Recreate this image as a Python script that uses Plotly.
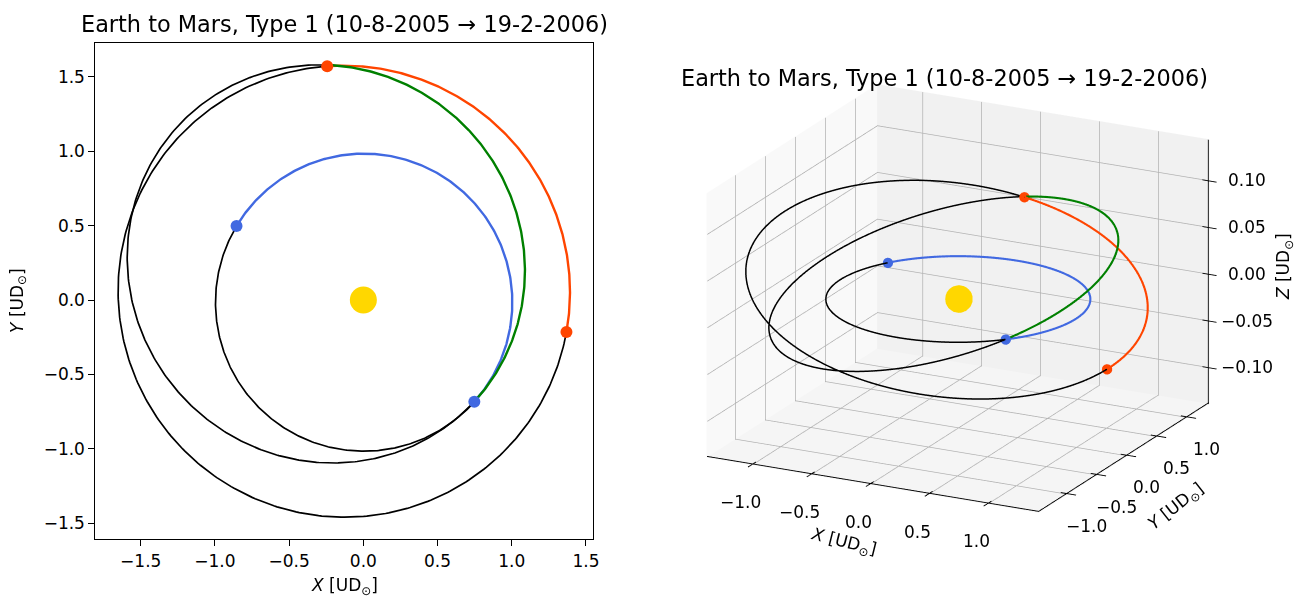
import numpy as np
import plotly.graph_objects as go

title_text = "Earth to Mars, Type 1 (10-8-2005 → 19-2-2006)"

# Orbits: Earth, Mars, transfer
names = ["Earth", "Mars", "Transfer"]
semi_latus = [1.000, 1.5104, 1.2724]      # UD
ecc = [0.0167, 0.0934, 0.2564]
lon_peri = [102.9, 336.1, -44.0]          # deg
incl = [0.0, 1.85, 2.24]                  # deg
lon_node = [0.0, 49.56, -42.48]           # deg
# heliocentric longitudes on 10-8-2005 (departure) and 19-2-2006 (arrival)
lon_dep = [-42.48, -8.95, -42.48]
lon_arr = [149.8, 98.81, 98.81]
arc_colors = ["royalblue", "orangered", "green"]
dot_colors = ["royalblue", "orangered"]
sun_color = "gold"

xy_ticks = [-1.5, -1.0, -0.5, 0.0, 0.5, 1.0, 1.5]
xyz_ticks = [-1.0, -0.5, 0.0, 0.5, 1.0]
z_ticks = [-0.10, -0.05, 0.0, 0.05, 0.10]

# 3D axes box limits
BX = [-1.39, 1.43]
BY = [-1.47, 1.37]
BZ = [-0.139, 0.144]

W, H = 1298, 597
FONT = "DejaVu Sans"
GRID = "rgb(178,178,178)"

# view (orthographic)
AZ, EL = -63.0, 19.0
kx = 0.443                                   # scene units per UD along x and y
kz = 0.75 * kx * (BX[1] - BX[0]) / (BZ[1] - BZ[0])
vd = np.array([np.cos(np.radians(EL)) * np.cos(np.radians(AZ)),
               np.cos(np.radians(EL)) * np.sin(np.radians(AZ)),
               np.sin(np.radians(EL))])
# the box is pushed back along the line of sight (no visible change in an
# orthographic view) so that the orbits are always drawn in front of the panes
T = 0.5
SH = -T * vd / np.array([kx, kx, kz])


def orbit(k, a0, a1, n=300):
    th = np.radians(np.linspace(a0, a1, n))
    r = semi_latus[k] / (1 + ecc[k] * np.cos(th - np.radians(lon_peri[k])))
    x = r * np.cos(th)
    y = r * np.sin(th)
    z = r * np.tan(np.radians(incl[k])) * np.sin(th - np.radians(lon_node[k]))
    return x, y, z


def point(k, a):
    x, y, z = orbit(k, a, a, 1)
    return x[0], y[0], z[0]


def lab(t):
    return "<i>%s</i> [UD<sub>⊙</sub>]" % t


def fmt(v, n):
    return ("%.*f" % (n, v)).replace("-", "−")


fig = go.Figure()

# ---------- 2D ----------
for k in range(3):
    x, y, _ = orbit(k, lon_arr[k], lon_dep[k] + 360)
    fig.add_trace(go.Scatter(x=x, y=y, mode="lines", line=dict(color="black", width=1.7),
                             showlegend=False, hoverinfo="skip", xaxis="x", yaxis="y"))
for k in range(3):
    x, y, _ = orbit(k, lon_dep[k], lon_arr[k])
    fig.add_trace(go.Scatter(x=x, y=y, mode="lines", line=dict(color=arc_colors[k], width=2.4),
                             showlegend=False, hoverinfo="skip", xaxis="x", yaxis="y"))
for k in range(2):
    pts = [point(k, lon_dep[k]), point(k, lon_arr[k])]
    fig.add_trace(go.Scatter(x=[p[0] for p in pts], y=[p[1] for p in pts], mode="markers",
                             marker=dict(color=dot_colors[k], size=12), showlegend=False,
                             xaxis="x", yaxis="y"))
fig.add_trace(go.Scatter(x=[0], y=[0], mode="markers", marker=dict(color=sun_color, size=27),
                         showlegend=False, xaxis="x", yaxis="y"))

# ---------- 3D: panes, grid, axes (matplotlib-like box) ----------
flat = dict(ambient=1, diffuse=0, specular=0, roughness=1, fresnel=0)


def pane(xs, ys, zs, color):
    fig.add_trace(go.Mesh3d(x=np.array(xs) + SH[0], y=np.array(ys) + SH[1], z=np.array(zs) + SH[2],
                            i=[0, 0], j=[1, 2], k=[2, 3], color=color, flatshading=True,
                            lighting=flat, hoverinfo="skip", showscale=False, scene="scene"))


pane([BX[0]] * 4, [BY[0], BY[1], BY[1], BY[0]], [BZ[0], BZ[0], BZ[1], BZ[1]], "rgb(249,249,249)")
pane([BX[0], BX[1], BX[1], BX[0]], [BY[1]] * 4, [BZ[0], BZ[0], BZ[1], BZ[1]], "rgb(241,241,241)")
pane([BX[0], BX[1], BX[1], BX[0]], [BY[0], BY[0], BY[1], BY[1]], [BZ[0]] * 4, "rgb(245,245,245)")


class Segs:
    def __init__(self):
        self.x, self.y, self.z = [], [], []

    def add(self, p, q):
        for lst, a, b, s in ((self.x, p[0], q[0], SH[0]), (self.y, p[1], q[1], SH[1]),
                             (self.z, p[2], q[2], SH[2])):
            lst.extend([a + s, b + s, None])


g = Segs()
ex0, ey1, ez0 = BX[0] + 0.006, BY[1] - 0.006, BZ[0] + 0.0006
for t in xyz_ticks:
    g.add((t, ey1, BZ[0]), (t, ey1, BZ[1]))
    g.add((t, BY[0], ez0), (t, BY[1], ez0))
    g.add((ex0, t, BZ[0]), (ex0, t, BZ[1]))
    g.add((BX[0], t, ez0), (BX[1], t, ez0))
for t in z_ticks:
    g.add((BX[0], ey1, t), (BX[1], ey1, t))
    g.add((ex0, BY[0], t), (ex0, BY[1], t))
fig.add_trace(go.Scatter3d(x=g.x, y=g.y, z=g.z, mode="lines", line=dict(color=GRID, width=1.5),
                           showlegend=False, hoverinfo="skip", scene="scene"))

a = Segs()
ex1, ey0, ez1 = BX[1] - 0.004, BY[0] + 0.004, BZ[0] + 0.0012
a.add((BX[0], ey0, ez1), (ex1, ey0, ez1))          # x axis
a.add((ex1, ey0, ez1), (ex1, BY[1], ez1))          # y axis
a.add((ex1, ey1 - 0.004, BZ[0]), (ex1, ey1 - 0.004, BZ[1]))   # z axis
for t in xyz_ticks:
    a.add((t, ey0 + 0.05, ez1), (t, ey0 - 0.08, ez1))
    a.add((ex1 - 0.05, t, ez1), (ex1 + 0.08, t, ez1))
for t in z_ticks:
    a.add((ex1 - 0.05, ey1 - 0.004, t), (ex1 + 0.07, ey1 - 0.004, t))
fig.add_trace(go.Scatter3d(x=a.x, y=a.y, z=a.z, mode="lines", line=dict(color="black", width=1.8),
                           showlegend=False, hoverinfo="skip", scene="scene"))

# ---------- 3D: orbits ----------
for k in range(3):
    x, y, z = orbit(k, lon_arr[k], lon_dep[k] + 360)
    fig.add_trace(go.Scatter3d(x=x, y=y, z=z, mode="lines", line=dict(color="black", width=3),
                               showlegend=False, hoverinfo="skip", scene="scene"))
for k in range(3):
    x, y, z = orbit(k, lon_dep[k], lon_arr[k])
    fig.add_trace(go.Scatter3d(x=x, y=y, z=z, mode="lines", line=dict(color=arc_colors[k], width=4.2),
                               showlegend=False, hoverinfo="skip", scene="scene"))
for k in range(2):
    pts = [point(k, lon_dep[k]), point(k, lon_arr[k])]
    fig.add_trace(go.Scatter3d(x=[p[0] for p in pts], y=[p[1] for p in pts], z=[p[2] for p in pts],
                               mode="markers", marker=dict(color=dot_colors[k], size=6),
                               showlegend=False, scene="scene"))
fig.add_trace(go.Scatter3d(x=[0], y=[0], z=[0], mode="markers",
                           marker=dict(color=sun_color, size=16), showlegend=False, scene="scene"))

# ---------- 3D labels ----------
tf = dict(family=FONT, size=17, color="black")
sa = []
for t in xyz_ticks:
    sa.append(dict(x=t, y=BY[0], z=BZ[0], text=fmt(t, 1), showarrow=False, xanchor="center",
                   yanchor="middle", xshift=-12, yshift=-37, font=tf))
    sa.append(dict(x=BX[1], y=t, z=BZ[0], text=fmt(t, 1), showarrow=False, xanchor="center",
                   yanchor="middle", xshift=20, yshift=-31, font=tf))
for t in z_ticks:
    sa.append(dict(x=BX[1], y=BY[1], z=t, text=fmt(t, 2), showarrow=False, xanchor="center",
                   yanchor="middle", xshift=38, font=tf))
sa.append(dict(x=0, y=BY[0], z=BZ[0], text=lab("X"), showarrow=False, textangle=14,
               xanchor="center", yanchor="middle", xshift=-27, yshift=-58, font=tf))
sa.append(dict(x=BX[1], y=0, z=BZ[0], text=lab("Y"), showarrow=False, textangle=-38,
               xanchor="center", yanchor="middle", xshift=50, yshift=-50, font=tf))
sa.append(dict(x=BX[1], y=BY[1], z=0, text=lab("Z"), showarrow=False, textangle=-90,
               xanchor="center", yanchor="middle", xshift=76, yshift=7, font=tf))

# plotly's own scene axes stay hidden; their ranges only frame the drawn box
cx, cy, cz = sum(BX) / 2, sum(BY) / 2, sum(BZ) / 2
half, halfz = 2.45, 0.21
hidden = dict(visible=False, showspikes=False)
D = 5.0

ax2 = dict(showline=True, mirror=True, linecolor="black", linewidth=1.3, ticks="outside",
           ticklen=6, tickwidth=1.2, tickcolor="black", showgrid=False, zeroline=False,
           tickfont=dict(family=FONT, size=17, color="black"), tickformat=".1f")

fig.update_layout(
    width=W, height=H, margin=dict(l=0, r=0, t=0, b=0),
    paper_bgcolor="white", plot_bgcolor="white",
    font=dict(family=FONT, color="black"),
    xaxis=dict(domain=[96 / W, 596 / W], range=[-1.805, 1.546], tickvals=xy_ticks, **ax2),
    yaxis=dict(domain=[1 - 539.3 / H, 1 - 42.7 / H], range=[-1.609, 1.730], tickvals=xy_ticks, **ax2),
    scene=dict(
        domain=dict(x=[0.502, 0.982], y=[0.0, 1.0]),
        xaxis=dict(range=[cx - half, cx + half], **hidden),
        yaxis=dict(range=[cy - half, cy + half], **hidden),
        zaxis=dict(range=[cz - halfz, cz + halfz], **hidden),
        aspectmode="manual",
        aspectratio=dict(x=2 * half * kx, y=2 * half * kx, z=2 * halfz * kz),
        camera=dict(eye=dict(x=D * vd[0], y=D * vd[1], z=D * vd[2]),
                    up=dict(x=0, y=0, z=1), center=dict(x=0, y=0, z=0),
                    projection=dict(type="orthographic")),
        annotations=sa,
    ),
    annotations=[
        dict(text=title_text, x=346 / W, y=1 - 24 / H, xref="paper", yref="paper",
             xanchor="center", yanchor="middle", showarrow=False, font=dict(family=FONT, size=22.4)),
        dict(text=title_text, x=950 / W, y=1 - 78 / H, xref="paper", yref="paper",
             xanchor="center", yanchor="middle", showarrow=False, font=dict(family=FONT, size=22.4)),
        dict(text=lab("X"), x=346 / W, y=1 - 586 / H, xref="paper", yref="paper",
             xanchor="center", yanchor="middle", showarrow=False, font=dict(family=FONT, size=17)),
        dict(text=lab("Y"), x=18 / W, y=1 - 300 / H, xref="paper", yref="paper", textangle=-90,
             xanchor="center", yanchor="middle", showarrow=False, font=dict(family=FONT, size=17)),
    ],
)

fig.write_html("out.html")
